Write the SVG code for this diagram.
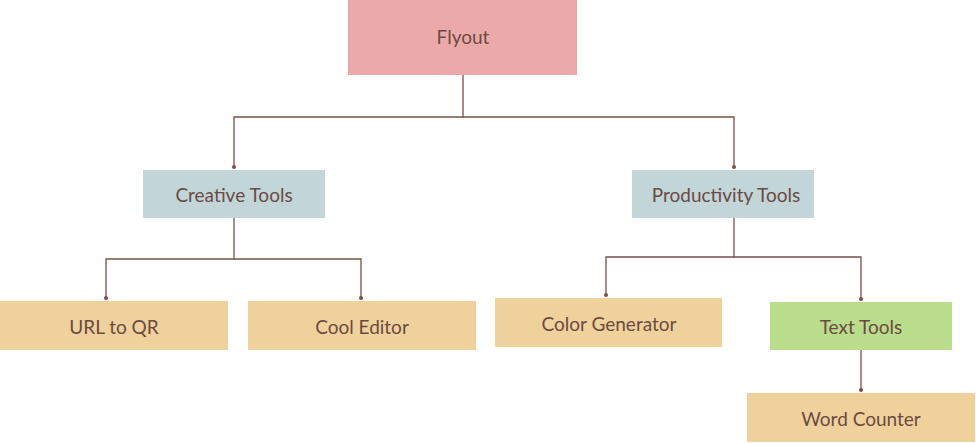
<svg xmlns="http://www.w3.org/2000/svg" width="976" height="443" viewBox="0 0 976 443">
<style>
text{font-family:"Lato","Liberation Sans",sans-serif;font-size:19px;fill:#6b4a44;text-anchor:middle;dominant-baseline:central}
.c{fill:none;stroke:#7a4f48;stroke-width:1.3;marker-end:url(#d)}
.y{fill:#efd19b}.b{fill:#c2d5d8}
</style>
<defs><marker id="d" viewBox="0 0 4 4" refX="2" refY="2" markerWidth="4" markerHeight="4" markerUnits="userSpaceOnUse"><circle cx="2" cy="2" r="2" fill="#7a4f48"/></marker></defs>
<rect width="976" height="443" fill="#fff"/>
<g id="connectors">
<path class="c" d="M463 75V117H234V167"/>
<path class="c" d="M463 117H734V167"/>
<path class="c" d="M234 218V259H106V298"/>
<path class="c" d="M234 259H361V298"/>
<path class="c" d="M734 218V257H606V295"/>
<path class="c" d="M734 257H861V299"/>
<path class="c" d="M861 350V390"/>
</g>
<g id="flyout"><rect x="348" y="0" width="229" height="75" fill="#ebaaa9"/><text x="463" y="36">Flyout</text></g>
<g id="creative"><rect class="b" x="143" y="170" width="182" height="48"/><text x="234" y="194">Creative Tools</text></g>
<g id="productivity"><rect class="b" x="632" y="170" width="182" height="48"/><text x="726" y="194">Productivity Tools</text></g>
<g id="url"><rect class="y" x="0" y="301" width="228" height="49"/><text x="114" y="326">URL to QR</text></g>
<g id="cool"><rect class="y" x="248" y="301" width="228" height="49"/><text x="362" y="326">Cool Editor</text></g>
<g id="color"><rect class="y" x="495" y="298" width="227" height="49"/><text x="609" y="323">Color Generator</text></g>
<g id="text"><rect x="770" y="302" width="182" height="48" fill="#badd8b"/><text x="861" y="326">Text Tools</text></g>
<g id="word"><rect class="y" x="747" y="393" width="228" height="49"/><text x="861" y="418">Word Counter</text></g>
</svg>
